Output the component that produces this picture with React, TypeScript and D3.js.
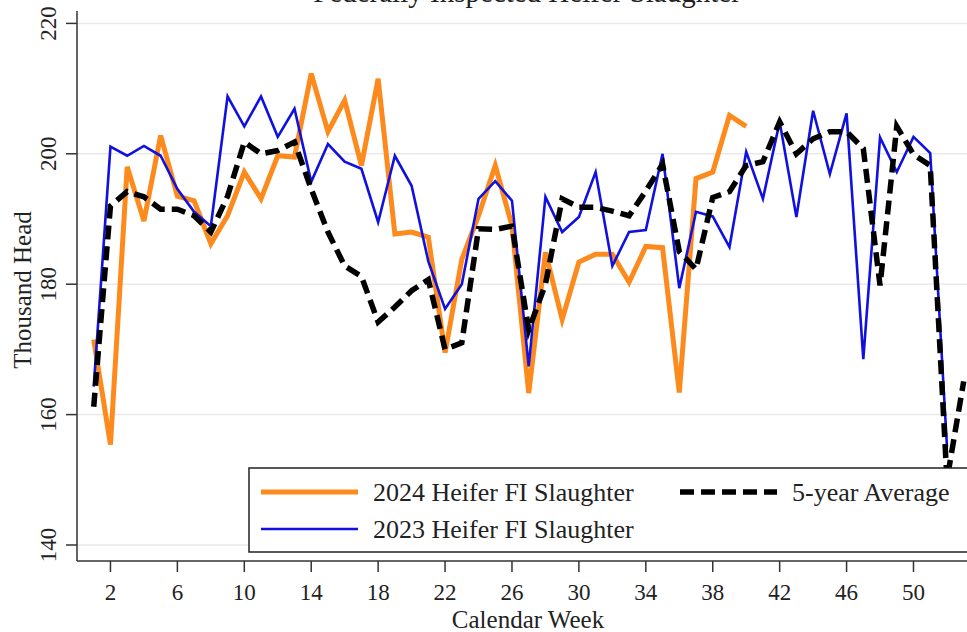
import React, { useEffect, useRef } from "react";
import * as d3 from "d3";

// weekly values, thousand head
const weeks2024 = d3.range(1, 41);
const heifer2024 = [
    171.5, 155.4, 198.0, 189.7, 202.8, 193.5, 192.8, 186.2, 190.5, 197.2,
    193.1, 199.7, 199.5, 212.3, 203.4, 208.2, 198.2, 211.5, 187.7, 188.0,
    187.2, 169.5, 183.8, 190.5, 198.2, 189.0, 163.3, 184.9, 174.6, 183.4,
    184.6, 184.6, 180.3, 185.8, 185.6, 163.4, 196.2, 197.2, 205.9, 204.2
];
const weeks2023 = d3.range(1, 53);
const heifer2023 = [
    164.3, 201.1, 199.7, 201.2, 199.7, 194.6, 191.1, 188.9, 208.8, 204.2,
    208.8, 202.6, 206.9, 195.7, 201.5, 198.8, 197.7, 189.5, 199.7, 195.1,
    183.5, 176.2, 180.0, 193.1, 195.8, 192.8, 167.4, 193.4, 188.0, 190.3,
    197.2, 182.8, 188.0, 188.3, 200.0, 179.4, 191.1, 190.4, 185.7, 200.3,
    193.1, 204.9, 190.3, 206.6, 196.9, 206.2, 168.5, 202.5, 197.2, 202.6,
    200.1, 155.1
];
const weeksAvg = d3.range(1, 54);
const fiveYearAvg = [
    161.2, 192.0, 194.2, 193.4, 191.5, 191.5, 190.5, 188.0, 193.5, 201.8,
    200.0, 200.5, 201.8, 194.6, 188.0, 182.8, 181.2, 174.2, 176.5, 179.0,
    180.7, 170.0, 171.0, 188.5, 188.4, 188.9, 173.0, 180.0, 193.1, 191.8,
    191.8, 191.2, 190.5, 194.3, 198.4, 185.0, 182.3, 193.3, 194.2, 198.2,
    198.8, 204.9, 200.0, 202.3, 203.4, 203.4, 200.8, 179.8, 204.2, 199.9,
    198.2, 150.0, 165.1
];
const xTicks = [2, 6, 10, 14, 18, 22, 26, 30, 34, 38, 42, 46, 50];
const yTicks = [140, 160, 180, 200, 220];
const seriesNames = ["2024 Heifer FI Slaughter", "2023 Heifer FI Slaughter", "5-year Average"];

function App() {
    const chart = useRef(null);

    useEffect(() => {
        const width = 967;
        const height = 632;
        const font = "'Liberation Serif', 'Times New Roman', serif";
        const svg = d3.select(chart.current)
            .attr("width", width)
            .attr("height", height);
        const g = svg.append("g");

        const x = d3.scaleLinear().domain([0, 54]).range([77, 77 + 54 * 16.73]);
        const y = d3.scaleLinear().domain([140, 220]).range([545, 23.4]);

        // title (cut off at the top in the original)
        g.append("text")
            .attr("x", 527)
            .attr("y", 2)
            .attr("text-anchor", "middle")
            .attr("font-family", font)
            .attr("font-size", 29)
            .attr("fill", "#222")
            .text("Federally Inspected Heifer Slaughter");

        // grid
        g.selectAll(".grid")
            .data(yTicks)
            .enter()
            .append("line")
            .attr("class", "grid")
            .attr("x1", 77)
            .attr("x2", width)
            .attr("y1", d => y(d))
            .attr("y2", d => y(d))
            .attr("stroke", "#e9e9e9")
            .attr("stroke-width", 1.5);

        const line = d3.line()
            .x(d => x(d[0]))
            .y(d => y(d[1]));

        const series = [
            { weeks: weeks2024, values: heifer2024, colour: "#fd8a1c", w: 5, dash: null },
            { weeks: weeks2023, values: heifer2023, colour: "#1010e0", w: 2.6, dash: null },
            { weeks: weeksAvg, values: fiveYearAvg, colour: "#000", w: 5.5, dash: "14,7" }
        ];

        series.forEach(s => {
            g.append("path")
                .datum(s.weeks.map((wk, i) => [wk, s.values[i]]))
                .attr("d", line)
                .attr("fill", "none")
                .attr("stroke", s.colour)
                .attr("stroke-width", s.w)
                .attr("stroke-linejoin", "miter")
                .attr("stroke-dasharray", s.dash);
        });

        // axes
        g.append("line")
            .attr("x1", 77).attr("x2", 77)
            .attr("y1", 11).attr("y2", 561)
            .attr("stroke", "#333").attr("stroke-width", 1.5);
        g.append("line")
            .attr("x1", 77).attr("x2", width)
            .attr("y1", 561).attr("y2", 561)
            .attr("stroke", "#333").attr("stroke-width", 1.5);

        g.selectAll(".xtick")
            .data(xTicks)
            .enter()
            .append("line")
            .attr("x1", d => x(d)).attr("x2", d => x(d))
            .attr("y1", 561).attr("y2", 572)
            .attr("stroke", "#333").attr("stroke-width", 1.5);
        g.selectAll(".xlabel")
            .data(xTicks)
            .enter()
            .append("text")
            .attr("x", d => x(d))
            .attr("y", 600)
            .attr("text-anchor", "middle")
            .attr("font-family", font)
            .attr("font-size", 23)
            .attr("fill", "#222")
            .text(d => d);

        g.selectAll(".ytick")
            .data(yTicks)
            .enter()
            .append("line")
            .attr("x1", 66).attr("x2", 77)
            .attr("y1", d => y(d)).attr("y2", d => y(d))
            .attr("stroke", "#333").attr("stroke-width", 1.5);
        g.selectAll(".ylabel")
            .data(yTicks)
            .enter()
            .append("text")
            .attr("transform", d => "translate(56," + y(d) + ") rotate(-90)")
            .attr("text-anchor", "middle")
            .attr("font-family", font)
            .attr("font-size", 23)
            .attr("fill", "#222")
            .text(d => d);

        g.append("text")
            .attr("x", 528)
            .attr("y", 628)
            .attr("text-anchor", "middle")
            .attr("font-family", font)
            .attr("font-size", 25)
            .attr("fill", "#222")
            .text("Calendar Week");
        g.append("text")
            .attr("transform", "translate(31,290) rotate(-90)")
            .attr("text-anchor", "middle")
            .attr("font-family", font)
            .attr("font-size", 25)
            .attr("fill", "#222")
            .text("Thousand Head");

        // legend
        const legend = g.append("g");
        legend.append("rect")
            .attr("x", 249).attr("y", 468)
            .attr("width", 740).attr("height", 84)
            .attr("fill", "#fff")
            .attr("stroke", "#222").attr("stroke-width", 1.5);
        const items = [
            { lx: 261, ly: 492, s: series[0], name: seriesNames[0] },
            { lx: 261, ly: 529, s: series[1], name: seriesNames[1] },
            { lx: 680, ly: 492, s: series[2], name: seriesNames[2] }
        ];
        items.forEach(it => {
            legend.append("line")
                .attr("x1", it.lx).attr("x2", it.lx + 97)
                .attr("y1", it.ly).attr("y2", it.ly)
                .attr("stroke", it.s.colour)
                .attr("stroke-width", it.s.w)
                .attr("stroke-dasharray", it.s.dash);
            legend.append("text")
                .attr("x", it.lx + 112)
                .attr("y", it.ly + 9)
                .attr("font-family", font)
                .attr("font-size", 26)
                .attr("fill", "#222")
                .text(it.name);
        });

        return () => {
            svg.selectAll("*").remove();
        };
    }, []);

    return (
        <svg ref={chart} style={{ position: "absolute", left: 0, top: 0 }}></svg>
    );
}

export default App;
